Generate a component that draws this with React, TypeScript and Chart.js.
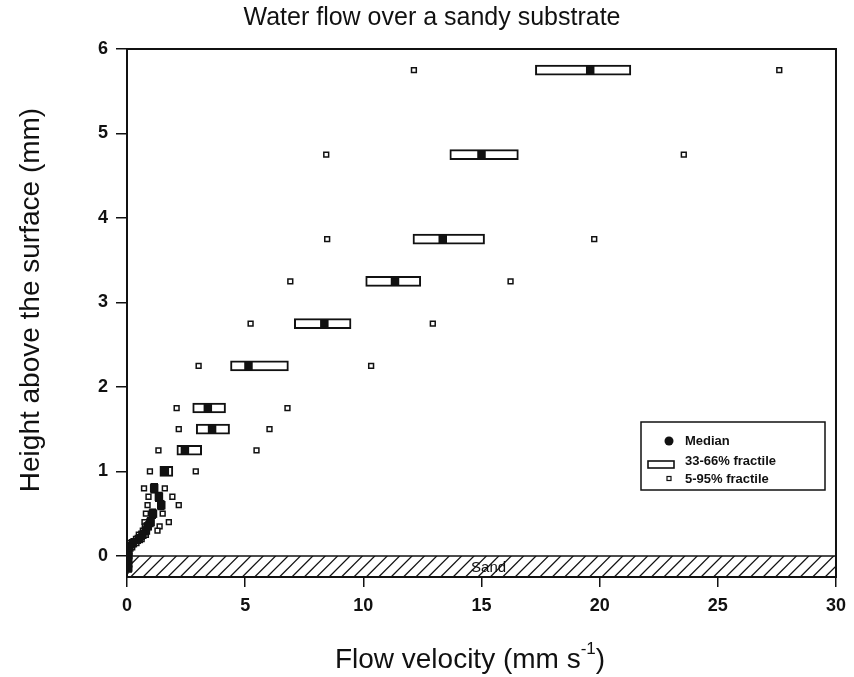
import React, { useEffect, useRef } from 'react';
import { Chart, registerables } from 'chart.js';
Chart.register(...registerables);

// Heights above the surface (mm)
const HEIGHTS = [5.75, 4.75, 3.75, 3.25, 2.75, 2.25, 1.75, 1.5, 1.25, 1.0, 0.8, 0.7, 0.6, 0.5, 0.4, 0.35, 0.3, 0.25, 0.2, 0.15, 0.1, 0.05, 0, -0.05, -0.1, -0.15];
// Flow velocity statistics (mm s-1)
const MEDIAN = [19.6, 15.0, 13.36, 11.34, 8.35, 5.14, 3.42, 3.6, 2.45, 1.6, 1.15, 1.35, 1.45, 1.1, 1.0, 0.88, 0.8, 0.65, 0.5, 0.25, 0.1, 0.05, 0.04, 0.03, 0.03, 0.03];
const Q33 = [17.28, 13.66, 12.1, 10.1, 7.08, 4.38, 2.78, 2.93, 2.11, 1.39, 1.0, 1.2, 1.3, 0.95, 0.85, 0.78, 0.7, 0.55, 0.42, 0.15, 0.04, 0.02, 0.01, 0.01, 0.01, 0.01];
const Q66 = [21.32, 16.56, 15.13, 12.43, 9.48, 6.83, 4.17, 4.34, 3.16, 1.94, 1.3, 1.5, 1.58, 1.22, 1.12, 0.98, 0.9, 0.75, 0.58, 0.35, 0.18, 0.1, 0.07, 0.06, 0.06, 0.06];
const P5 = [12.14, 8.43, 8.47, 6.91, 5.23, 3.03, 2.1, 2.19, 1.33, 0.97, 0.72, 0.91, 0.87, 0.8, 0.74, 0.76, 0.67, 0.5, 0.38, 0.1, 0.02, 0.01, 0.01, 0.01, 0.01, 0.01];
const P95 = [27.6, 23.56, 19.77, 16.23, 12.94, 10.33, 6.79, 6.03, 5.48, 2.91, 1.6, 1.92, 2.19, 1.51, 1.77, 1.38, 1.29, 0.8, 0.62, 0.4, 0.22, 0.1, 0.1, 0.1, 0.1, 0.1];

const X_TICKS = [0, 5, 10, 15, 20, 25, 30];
const Y_TICKS = [0, 1, 2, 3, 4, 5, 6];

const TITLE = 'Water flow over a sandy substrate';
const X_TITLE = 'Flow velocity (mm s';
const X_TITLE_SUP = '-1';
const Y_TITLE = 'Height above the surface (mm)';
const SAND_LABEL = 'Sand';
const LABELS = ['Median', '33-66% fractile', '5-95% fractile'];

const FONT = "'Liberation Sans', Arial, Helvetica, sans-serif";

const decorPlugin = {
  id: 'decor',
  beforeDatasetsDraw(chart: any) {
    const { ctx, chartArea, scales } = chart;
    const y0 = scales.y.getPixelForValue(0);
    const yb = chartArea.bottom;
    ctx.save();
    ctx.beginPath();
    ctx.rect(chartArea.left, y0, chartArea.right - chartArea.left, yb - y0);
    ctx.clip();
    ctx.strokeStyle = '#111';
    ctx.lineWidth = 1.3;
    const h = yb - y0;
    for (let x = chartArea.left - h; x < chartArea.right + h; x += 12.4) {
      ctx.beginPath();
      ctx.moveTo(x, yb);
      ctx.lineTo(x + h, y0);
      ctx.stroke();
    }
    ctx.restore();
    ctx.save();
    ctx.strokeStyle = '#111';
    ctx.lineWidth = 1.5;
    ctx.beginPath();
    ctx.moveTo(chartArea.left, y0);
    ctx.lineTo(chartArea.right, y0);
    ctx.stroke();
    ctx.font = `15px ${FONT}`;
    ctx.fillStyle = '#111';
    ctx.textAlign = 'center';
    ctx.textBaseline = 'middle';
    const cx = scales.x.getPixelForValue(15.3);
    ctx.fillText(SAND_LABEL, cx, (y0 + yb) / 2 + 1);
    ctx.restore();
  },
  afterDraw(chart: any) {
    const { ctx, chartArea } = chart;
    ctx.save();
    // frame
    ctx.strokeStyle = '#111';
    ctx.lineWidth = 2;
    ctx.strokeRect(chartArea.left, chartArea.top, chartArea.right - chartArea.left, chartArea.bottom - chartArea.top);
    // title
    ctx.fillStyle = '#111';
    ctx.textAlign = 'center';
    ctx.textBaseline = 'middle';
    ctx.font = `25px ${FONT}`;
    ctx.fillText(TITLE, 432, 18);
    // x title with superscript
    const main = X_TITLE;
    ctx.font = `28px ${FONT}`;
    const w1 = ctx.measureText(main).width;
    ctx.font = `17px ${FONT}`;
    const w2 = ctx.measureText(X_TITLE_SUP).width;
    ctx.font = `28px ${FONT}`;
    const w3 = ctx.measureText(')').width;
    const total = w1 + w2 + w3;
    const sx = 470 - total / 2;
    ctx.textAlign = 'left';
    ctx.fillText(main, sx, 660);
    ctx.font = `17px ${FONT}`;
    ctx.fillText(X_TITLE_SUP, sx + w1, 649);
    ctx.font = `28px ${FONT}`;
    ctx.fillText(')', sx + w1 + w2, 660);
    // y title
    ctx.save();
    ctx.translate(31, 300);
    ctx.rotate(-Math.PI / 2);
    ctx.textAlign = 'center';
    ctx.fillText(Y_TITLE, 0, 0);
    ctx.restore();
    // legend
    const lx = 641, ly = 422, lw = 184, lh = 68;
    ctx.fillStyle = '#fff';
    ctx.fillRect(lx, ly, lw, lh);
    ctx.strokeStyle = '#111';
    ctx.lineWidth = 1.5;
    ctx.strokeRect(lx, ly, lw, lh);
    const labels = chart.data.datasets.map((d: any) => d.label);
    ctx.fillStyle = '#111';
    ctx.beginPath();
    ctx.arc(669, 441, 4.5, 0, Math.PI * 2);
    ctx.fill();
    ctx.lineWidth = 1.6;
    ctx.strokeRect(648, 461, 26, 7);
    ctx.lineWidth = 1.2;
    ctx.strokeRect(667, 476.5, 4, 4);
    ctx.font = `bold 13px ${FONT}`;
    ctx.textAlign = 'left';
    ctx.textBaseline = 'middle';
    ctx.fillText(labels[0], 685, 441);
    ctx.fillText(labels[1], 685, 461);
    ctx.fillText(labels[2], 685, 479);
    ctx.restore();
  },
};

export default function App() {
  const ref = useRef<HTMLCanvasElement | null>(null);
  useEffect(() => {
    if (!ref.current) return;
    const medianData = HEIGHTS.map((h, i) => ({ x: MEDIAN[i], y: h }));
    const boxData = HEIGHTS.map((h, i) => ({ y: h, x: [Q33[i], Q66[i]] }));
    const fracData = [
      ...HEIGHTS.map((h, i) => ({ x: P5[i], y: h })),
      ...HEIGHTS.map((h, i) => ({ x: P95[i], y: h })),
    ];
    const chart = new Chart(ref.current, {
      type: 'scatter',
      data: {
        datasets: [
          {
            type: 'scatter',
            label: LABELS[0],
            data: medianData,
            pointStyle: 'rect',
            pointRadius: 6,
            backgroundColor: '#111',
            borderColor: '#111',
            borderWidth: 0,
          } as any,
          {
            type: 'bar',
            label: LABELS[1],
            indexAxis: 'y',
            data: boxData,
            barThickness: 10,
            backgroundColor: '#fff',
            borderColor: '#111',
            borderWidth: 2,
            borderSkipped: false,
          } as any,
          {
            type: 'scatter',
            label: LABELS[2],
            data: fracData,
            pointStyle: 'rect',
            pointRadius: 3.4,
            backgroundColor: '#fff',
            borderColor: '#111',
            borderWidth: 1.5,
          } as any,
        ],
      },
      options: {
        animation: false,
        responsive: false,
        maintainAspectRatio: false,
        layout: { padding: { left: 0, right: 15, top: 49, bottom: 0 } },
        plugins: {
          legend: { display: false },
          tooltip: { enabled: false },
          title: { display: false },
        },
        scales: {
          x: {
            type: 'linear',
            min: 0,
            max: 30,
            offset: false,
            afterFit: (s: any) => { s.height = 100; },
            afterBuildTicks: (s: any) => { s.ticks = X_TICKS.map((v) => ({ value: v })); },
            grid: { offset: false, drawOnChartArea: false, drawTicks: true, tickLength: 10, color: '#111', lineWidth: 1.5 },
            border: { display: true, color: '#111', width: 2 },
            ticks: { color: '#111', font: { family: FONT, size: 18, weight: 'bold' }, padding: 8, maxRotation: 0 },
          },
          y: {
            type: 'linear',
            min: -0.25,
            max: 6,
            offset: false,
            afterFit: (s: any) => { s.width = 127; },
            afterBuildTicks: (s: any) => { s.ticks = Y_TICKS.map((v) => ({ value: v })); },
            grid: { offset: false, drawOnChartArea: false, drawTicks: true, tickLength: 11, color: '#111', lineWidth: 1.5 },
            border: { display: true, color: '#111', width: 2 },
            ticks: { color: '#111', font: { family: FONT, size: 18, weight: 'bold' }, padding: 8 },
          },
        },
      } as any,
      plugins: [decorPlugin],
    });
    return () => chart.destroy();
  }, []);
  return (
    <div style={{ position: 'fixed', left: 0, top: 0, width: 854, height: 677, background: '#fff' }}>
      <canvas ref={ref} width={854} height={677} style={{ display: 'block' }} />
    </div>
  );
}
